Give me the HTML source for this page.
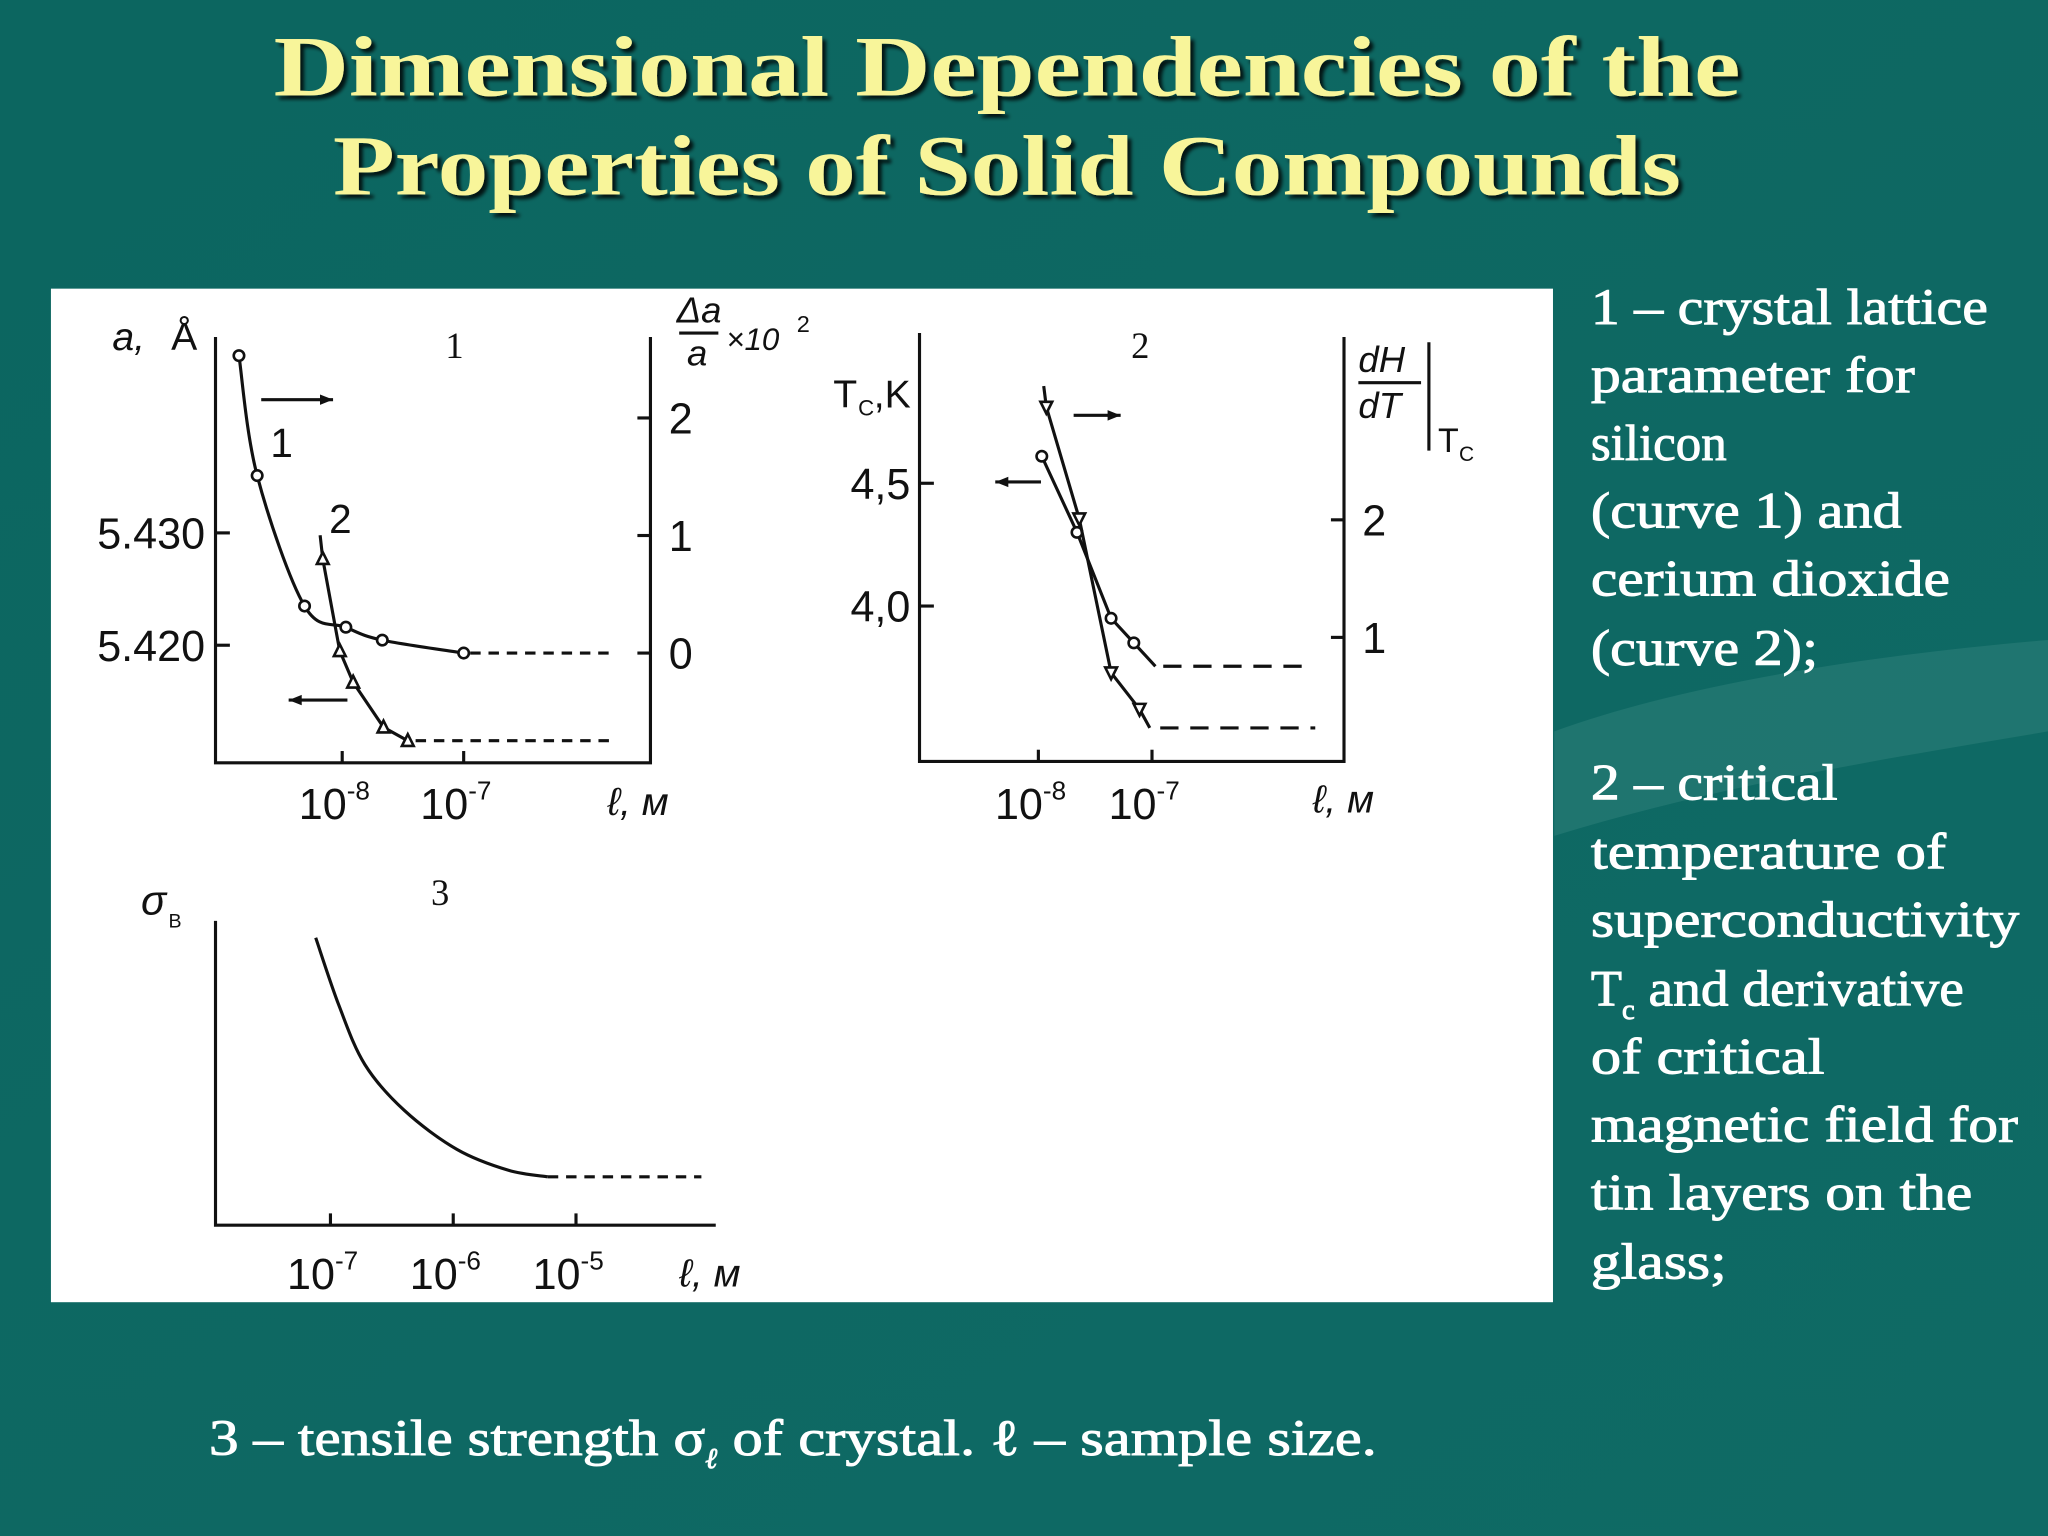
<!DOCTYPE html>
<html><head><meta charset="utf-8"><style>
html,body{margin:0;padding:0;background:#0f6964;}
svg{display:block}
</style></head><body>
<svg id="s" width="2048" height="1536" viewBox="0 0 1568 1176" xmlns="http://www.w3.org/2000/svg">
<defs>
<linearGradient id="bg" x1="0" y1="0" x2="1" y2="1"><stop offset="0" stop-color="#0c6660"/><stop offset="1" stop-color="#0f6a65"/></linearGradient>
<filter id="sh"><feDropShadow dx="3" dy="3" stdDeviation="1.5" flood-color="#000" flood-opacity="0.8"/></filter>
</defs>
<rect width="1568" height="1176" fill="url(#bg)"/>
<path d="M1190 560 C1300 520 1450 500 1568 490 L1568 560 C1450 580 1320 600 1190 640 Z" fill="#267a75" opacity="0.7"/>
<g font-family="'Liberation Serif',serif" font-weight="bold" font-size="66" fill="#f8f59a" text-anchor="middle" filter="url(#sh)">
<text x="771" y="73" textLength="1123" lengthAdjust="spacingAndGlyphs">Dimensional Dependencies of the</text>
<text x="771" y="149" textLength="1032" lengthAdjust="spacingAndGlyphs">Properties of Solid Compounds</text>
</g>
<rect x="39" y="221" width="1150" height="776" fill="#fff"/>
<g id="charts" font-family="'Liberation Sans',sans-serif" fill="#111"></g>
<g font-family="'Liberation Serif',serif" font-size="39" fill="#fff" stroke="#fff" stroke-width="0.7">
<text x="1218" y="248" textLength="304" lengthAdjust="spacingAndGlyphs">1 – crystal lattice</text>
<text x="1218" y="300" textLength="248" lengthAdjust="spacingAndGlyphs">parameter for</text>
<text x="1218" y="352" textLength="104" lengthAdjust="spacingAndGlyphs">silicon</text>
<text x="1218" y="404" textLength="238" lengthAdjust="spacingAndGlyphs">(curve 1) and</text>
<text x="1218" y="456" textLength="275" lengthAdjust="spacingAndGlyphs">cerium dioxide</text>
<text x="1218" y="509" textLength="174" lengthAdjust="spacingAndGlyphs">(curve 2);</text>
<text x="1218" y="612" textLength="189" lengthAdjust="spacingAndGlyphs">2 – critical</text>
<text x="1218" y="665" textLength="272" lengthAdjust="spacingAndGlyphs">temperature of</text>
<text x="1218" y="717" textLength="328" lengthAdjust="spacingAndGlyphs">superconductivity</text>
<text x="1218" y="770">T<tspan font-size="22" dy="10">c</tspan><tspan dy="-10" textLength="252" lengthAdjust="spacingAndGlyphs"> and derivative</tspan></text>
<text x="1218" y="822" textLength="179" lengthAdjust="spacingAndGlyphs">of  critical</text>
<text x="1218" y="874" textLength="327" lengthAdjust="spacingAndGlyphs">magnetic field for</text>
<text x="1218" y="926" textLength="292" lengthAdjust="spacingAndGlyphs">tin layers on the</text>
<text x="1218" y="979" textLength="104" lengthAdjust="spacingAndGlyphs">glass;</text>
</g>
<text font-family="'Liberation Serif',serif" font-size="39" fill="#fff" stroke="#fff" stroke-width="0.7" x="160" y="1114"><tspan textLength="380" lengthAdjust="spacingAndGlyphs">3 – tensile strength σ</tspan><tspan font-size="22" dy="10" font-style="italic">ℓ</tspan><tspan dy="-10" textLength="505" lengthAdjust="spacingAndGlyphs"> of  crystal.  ℓ  –  sample size.</tspan></text>
</svg>
<script>
// ---- Chart 1 data ----
const c1X = [-8.85,-8.70,-8.31,-7.97,-7.67,-7.0];
const c1Y = [2.53,1.51,0.40,0.22,0.11,0.0];          // Δa/a ×10², right axis
const c2X = [-8.16,-8.02,-7.91,-7.66,-7.46];
const c2Y = [5.4277,5.4195,5.4167,5.4127,5.4115];    // a, Å, left axis
const ch1LeftTicks = [5.430,5.420];
const ch1LeftLabels = ["5.430","5.420"];
const ch1RightTicks = [0,1,2];
const ch1XTicks = [-8,-7];
// ---- Chart 2 data ----
const tcX = [-7.97,-7.66,-7.36,-7.16,-6.97];
const tcY = [4.61,4.30,3.95,3.85,3.755];             // Tc, K
const dhX = [-7.93,-7.64,-7.36,-7.11,-7.02];
const dhY = [2.96,2.01,0.70,0.39,0.23];              // dH/dT
const ch2LeftTicks = [4.5,4.0];
const ch2LeftLabels = ["4,5","4,0"];
const ch2RightTicks = [1,2];
const ch2XTicks = [-8,-7];
// ---- Chart 3 data ----
const sgX = [-7.12,-6.93,-6.72,-6.40,-5.97,-5.55,-5.23];
const sgY = [220,168,123,88,58,42,37];               // σ (arbitrary)
const ch3XTicks = [-7,-6,-5];

const NS="http://www.w3.org/2000/svg";
const G=document.getElementById('charts');
function el(tag,attrs,parent){const e=document.createElementNS(NS,tag);for(const k in attrs)e.setAttribute(k,attrs[k]);(parent||G).appendChild(e);return e;}
function txt(x,y,s,size,parent,extra){const t=el('text',Object.assign({x:x,y:y,'font-size':size},extra||{}),parent);t.textContent=s;return t;}
function line(pts,parent,dash){return el('path',{d:'M'+pts.map(p=>p[0].toFixed(1)+' '+p[1].toFixed(1)).join(' L'),fill:'none',stroke:'#111','stroke-width':2.4,'stroke-dasharray':dash||'none'},parent);}
function curve(pts,parent){let d='M'+pts[0][0]+' '+pts[0][1];for(let i=0;i<pts.length-1;i++){const p0=pts[Math.max(0,i-1)],p1=pts[i],p2=pts[i+1],p3=pts[Math.min(pts.length-1,i+2)];d+=' C'+(p1[0]+(p2[0]-p0[0])/6)+' '+(p1[1]+(p2[1]-p0[1])/6)+' '+(p2[0]-(p3[0]-p1[0])/6)+' '+(p2[1]-(p3[1]-p1[1])/6)+' '+p2[0]+' '+p2[1];}return el('path',{d:d,fill:'none',stroke:'#111','stroke-width':2.4},parent);}
function circ(x,y,parent){return el('circle',{cx:x,cy:y,r:4,fill:'#fff',stroke:'#111','stroke-width':2},parent);}
function tri(x,y,down,parent){const h=down?-1:1;return el('path',{d:`M${x} ${y-5*h} L${x+4.5} ${y+4*h} L${x-4.5} ${y+4*h} Z`,fill:'#fff',stroke:'#111','stroke-width':2},parent);}
function arrow(x1,x2,y,parent){line([[x1,y],[x2,y]],parent);const s=x2>x1?1:-1;el('path',{d:`M${x2} ${y} L${x2-10*s} ${y-4} L${x2-10*s} ${y+4} Z`,fill:'#111'},parent);}
function tenExp(x,y,e,parent){const t=el('text',{x:x,y:y,'font-size':33,'text-anchor':'middle'},parent);t.textContent='10';const s=el('tspan',{'font-size':20,dy:-15},t);s.textContent=e;return t;}

// ===== Chart 1 =====
let g1=el('g',{});


const x1=v=>262+(v+8)*93, yL1=v=>408+(5.430-v)*8600, yR1=v=>500-v*90;
line([[165,258],[165,584],[498,584],[498,258]],g1);
ch1LeftTicks.forEach((v,i)=>{line([[165,yL1(v)],[176,yL1(v)]],g1);let t=txt(157,yL1(v)+12,ch1LeftLabels[i],33,g1,{'text-anchor':'end'});});
ch1RightTicks.forEach(v=>{line([[488,yR1(v)],[498,yR1(v)]],g1);let t=txt(512,yR1(v)+12,String(v),33,g1);});
ch1XTicks.forEach(v=>{line([[x1(v),584],[x1(v),575]],g1);let t=tenExp(x1(v)-6,627,String(v),g1);});
let p1=c1X.map((v,i)=>[x1(v),yR1(c1Y[i])]);
let s1=curve(p1,g1);


line([[p1[p1.length-1][0]+5,yR1(c1Y[c1Y.length-1])],[470,yR1(c1Y[c1Y.length-1])]],g1,'8 6');
p1.forEach(p=>circ(p[0],p[1],g1));
let p2=c2X.map((v,i)=>[x1(v),yL1(c2Y[i])]);
let s2=line([[p2[0][0]-2,p2[0][1]-18]].concat(p2),g1);


line([[p2[p2.length-1][0]+6,p2[p2.length-1][1]],[470,p2[p2.length-1][1]]],g1,'8 6');
p2.forEach(p=>tri(p[0],p[1],false,g1));
arrow(200,255,306,g1);arrow(266,221,536,g1);
txt(207,350,'1',31,g1);txt(252,408,'2',31,g1);
txt(341,274,'1',28,g1,{'font-family':"'Liberation Serif',serif"});
txt(86,268,'a,',30,g1,{'font-style':'italic'});txt(131,268,'Å',30,g1);
txt(518,247,'Δa',28,g1,{'font-style':'italic'});line([[520,255],[550,255]],g1);txt(526,280,'a',28,g1,{'font-style':'italic'});
txt(556,268,'×10',24,g1,{'font-style':'italic'});txt(610,254,'2',18,g1);
txt(465,624,'ℓ, м',30,g1,{'font-style':'italic'});

// ===== Chart 2 =====
let g2=el('g',{});


const x2=v=>795+(v+8)*87, yL2=v=>370+(4.5-v)*188, yR2=v=>578-v*90;
line([[704,255],[704,583],[1029,583],[1029,258]],g2);
ch2LeftTicks.forEach((v,i)=>{line([[704,yL2(v)],[715,yL2(v)]],g2);let t=txt(697,yL2(v)+12,ch2LeftLabels[i],33,g2,{'text-anchor':'end'});});
ch2RightTicks.forEach(v=>{line([[1019,yR2(v)],[1029,yR2(v)]],g2);let t=txt(1043,yR2(v)+12,String(v),33,g2);});
ch2XTicks.forEach(v=>{line([[x2(v),583],[x2(v),574]],g2);let t=tenExp(x2(v)-6,627,String(v),g2);});
let q1=tcX.map((v,i)=>[x2(v),yL2(tcY[i])]);
let s3=line(q1,g2);


line([[q1[q1.length-1][0]+6,q1[q1.length-1][1]],[1003,q1[q1.length-1][1]]],g2,'14 9');
q1.slice(0,-1).forEach(p=>circ(p[0],p[1],g2));
let q2=dhX.map((v,i)=>[x2(v),yR2(dhY[i])]);
let s4=line([[q2[0][0]-2,q2[0][1]-16]].concat(q2),g2);


line([[q2[q2.length-1][0]+8,q2[q2.length-1][1]],[1007,q2[q2.length-1][1]]],g2,'14 9');
q2.slice(0,-1).forEach(p=>tri(p[0],p[1],true,g2));
arrow(822,858,318,g2);arrow(797,762,369,g2);
txt(866,274,'2',28,g2,{'font-family':"'Liberation Serif',serif"});
txt(638,312,'T',30,g2);txt(657,318,'C',17,g2);txt(669,312,',K',30,g2);
txt(1040,285,'dH',28,g2,{'font-style':'italic'});line([[1040,293],[1088,293]],g2);txt(1040,320,'dT',28,g2,{'font-style':'italic'});
line([[1094,262],[1094,345]],g2);txt(1101,346,'T',26,g2);txt(1117,353,'C',16,g2);
txt(1005,622,'ℓ, м',30,g2,{'font-style':'italic'});

// ===== Chart 3 =====
let g3=el('g',{});


const x3=v=>253+(v+7)*94, y3=v=>938-v;
line([[165,705],[165,938],[548,938]],g3);
ch3XTicks.forEach(v=>{line([[x3(v),938],[x3(v),929]],g3);let t=tenExp(x3(v)-6,987,String(v),g3);});
let r=sgX.map((v,i)=>[x3(v),y3(sgY[i])]);
let s5=curve(r,g3);


line([[r[r.length-1][0],r[r.length-1][1]],[537,r[r.length-1][1]]],g3,'8 6');
txt(330,693,'3',28,g3,{'font-family':"'Liberation Serif',serif"});
txt(108,700,'σ',32,g3,{'font-style':'italic'});txt(129,710,'B',15,g3);
txt(520,985,'ℓ, м',30,g3,{'font-style':'italic'});
</script>
</body></html>
